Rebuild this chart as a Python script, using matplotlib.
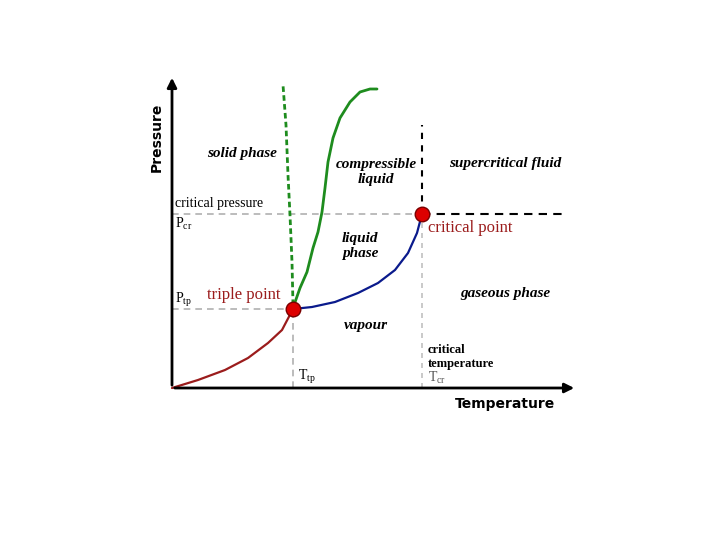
import matplotlib.pyplot as plt

# data units: temperature / pressure (arbitrary), origin at axis corner
t_sub = [0, 26, 53, 76, 96, 110, 121]
p_sub = [0, 8, 18, 30, 45, 58, 79]

t_vap = [121, 140, 163, 186, 206, 223, 236, 245, 250]
p_vap = [79, 81, 86, 95, 105, 118, 135, 155, 174]

t_melt = [121, 128, 135, 141, 146, 150, 153, 156, 161, 168, 178, 188, 198, 205]
p_melt = [80, 100, 116, 140, 156, 176, 200, 226, 250, 270, 286, 296, 299, 299]

t_melt_w = [121, 120, 118, 116, 114, 111]
p_melt_w = [83, 126, 173, 213, 263, 303]

t_tp, p_tp = 121, 79
t_cr, p_cr = 250, 174

t_max, p_max = 405, 313

fig = plt.figure(figsize=(7.2, 5.4), dpi=100)
ax = fig.add_axes([0, 0, 1, 1])
ax.set_xlim(-172, 548)
ax.set_ylim(-152, 388)
ax.axis("off")

serif = "Liberation Serif"
sans = "DejaVu Sans"

# reference lines
grey = dict(ls=(0, (4, 3)), color="#b0b0b0", lw=1.2)
ax.plot([0, t_cr], [p_cr, p_cr], **grey)
ax.plot([0, t_tp], [p_tp, p_tp], **grey)
ax.plot([t_tp, t_tp], [0, p_tp], **grey)
ax.plot([t_cr, t_cr], [0, p_cr], ls=(0, (3, 3)), color="#c0c0c0", lw=1.2)
ax.plot([t_cr, t_cr], [p_cr, 263], ls=(0, (3, 3)), color="black", lw=1.5)
ax.plot([t_cr, 393], [p_cr, p_cr], ls=(0, (4, 3)), color="black", lw=1.5)

# phase boundaries
rj = dict(solid_joinstyle="round", solid_capstyle="round")
ax.plot(t_sub, p_sub, color="#9b1c1c", lw=1.6, **rj)
ax.plot(t_vap, p_vap, color="#0a1a8c", lw=1.6, **rj)
ax.plot(t_melt, p_melt, color="#1e8c1e", lw=2, **rj)
ax.plot(t_melt_w, p_melt_w, color="#1e8c1e", lw=2, ls=(0, (2, 1.2)))

ax.scatter([t_tp, t_cr], [p_tp, p_cr], s=110, color="#dd0000",
           edgecolor="#7a0000", lw=1, zorder=5)

# axes arrows
ax.annotate("", xy=(t_max, 0), xytext=(0, 0),
            arrowprops=dict(arrowstyle="-|>", color="black", lw=2, mutation_scale=14))
ax.annotate("", xy=(0, p_max), xytext=(0, 0),
            arrowprops=dict(arrowstyle="-|>", color="black", lw=2, mutation_scale=14))

ax.text(-15, 251, "Pressure", rotation=90, ha="center", va="center",
        fontfamily=sans, fontweight="bold", fontsize=10)
ax.text(333, -16, "Temperature", ha="center", va="center",
        fontfamily=sans, fontweight="bold", fontsize=10)

it = dict(fontfamily=serif, fontstyle="italic", fontweight="bold", fontsize=11,
          ha="center", va="center")
ax.text(70, 235, "solid phase", **it)
ax.text(204, 216, "compressible\nliquid", linespacing=1.25, **it)
ax.text(333, 225, "supercritical fluid", **it)
ax.text(188, 142, "liquid\nphase", linespacing=1.25, **it)
ax.text(194, 62, "vapour", **it)
ax.text(333, 94, "gaseous phase", **it)

nt = dict(fontfamily=serif, fontsize=10, va="center")
ax.text(3, 184, "critical pressure", **nt)
ax.text(3, 164, r"P$_{\mathregular{cr}}$", **nt)
ax.text(3, 88, r"P$_{\mathregular{tp}}$", **nt)
ax.text(35, 93, "triple point", color="#9b1c1c", fontfamily=serif, fontsize=12, va="center")
ax.text(256, 160, "critical point", color="#9b1c1c", fontfamily=serif, fontsize=12, va="center")
ax.text(126, 11, r"T$_{\mathregular{tp}}$", **nt)
ax.text(256, 31, "critical\ntemperature", linespacing=1.15, fontfamily=serif,
        fontweight="bold", fontsize=9, va="center")
ax.text(256, 10, r"T$_{\mathregular{cr}}$", color="#555555", **nt)

fig.savefig("out.png", dpi=100)
